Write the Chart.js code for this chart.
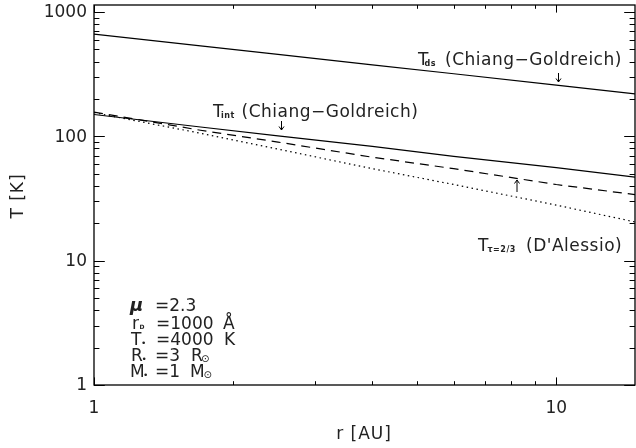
<!DOCTYPE html>
<html lang="en">
<head>
<meta charset="UTF-8">
<title>Disk temperature profiles</title>
<script src="https://cdn.jsdelivr.net/npm/chart.js"></script>
<style>
  body { margin: 0; background: #fff; }
  canvas { display: block; }
</style>
</head>
<body>
<canvas id="tempChart" width="636" height="448"></canvas>
<script>
// radius (AU) and temperature (K) of each curve
const radii = [1, 1.7, 2.5, 4, 6, 10, 14.8];
const tDs  = [664, 534, 456, 376, 319, 258, 220];
const tInt = [150, 119, 101, 83, 69, 56, 47];
const tMid = [157, 112, 90, 68, 55, 41, 34];
const tTau = [155, 106, 79, 55, 41, 28, 20.5];

const xTickLabels = [1, 10];
const yTickLabels = [1, 10, 100, 1000];
const xRange = [1, 14.8];
const yRange = [1, 1140];

const FONT = '"DejaVu Sans ExtraLight", "DejaVu Sans", sans-serif';
const INK = '#222';

function pts(vals) {
    return radii.map((r, i) => ({ x: r, y: vals[i] }));
}

// 1..9 x decade steps inside a range, flag for the decade values
function logTicks(range) {
    const out = [];
    for (let d = 1; d <= range[1]; d *= 10) {
        for (let k = 1; k < 10; k++) {
            const v = d * k;
            if (v >= range[0] && v <= range[1]) out.push([v, k === 1]);
        }
    }
    return out;
}

function txt(ctx, s, x, y, font, align) {
    ctx.font = font;
    ctx.textAlign = align || 'left';
    ctx.fillText(s, x, y);
}

function arrow(ctx, x, yTail, yHead) {
    const dir = yHead > yTail ? 1 : -1;
    ctx.beginPath();
    ctx.moveTo(x, yTail);
    ctx.lineTo(x, yHead);
    ctx.moveTo(x - 2.5, yHead - dir * 3.5);
    ctx.lineTo(x, yHead);
    ctx.lineTo(x + 2.5, yHead - dir * 3.5);
    ctx.stroke();
}

const frame = {
    id: 'frame',
    afterDraw(chart) {
        const { ctx, chartArea: a } = chart;
        const sx = chart.scales.x, sy = chart.scales.y;
        ctx.save();
        ctx.strokeStyle = '#000';
        ctx.fillStyle = INK;
        ctx.lineWidth = 1.3;
        ctx.strokeRect(a.left, a.top, a.right - a.left, a.bottom - a.top);

        // inward ticks on all four sides
        ctx.lineWidth = 1;
        ctx.beginPath();
        logTicks(xRange).forEach(([v, major]) => {
            const px = Math.round(sx.getPixelForValue(v)) + 0.5;
            const len = major ? 7.6 : 3.8;
            ctx.moveTo(px, a.bottom); ctx.lineTo(px, a.bottom - len);
            ctx.moveTo(px, a.top); ctx.lineTo(px, a.top + len);
        });
        logTicks(yRange).forEach(([v, major]) => {
            const py = Math.round(sy.getPixelForValue(v)) + 0.5;
            const len = major ? 10.8 : 5.4;
            ctx.moveTo(a.left, py); ctx.lineTo(a.left + len, py);
            ctx.moveTo(a.right, py); ctx.lineTo(a.right - len, py);
        });
        ctx.stroke();

        // tick labels
        const f17 = '17px ' + FONT;
        ctx.textBaseline = 'middle';
        xTickLabels.forEach(v => txt(ctx, String(v), sx.getPixelForValue(v), 409, f17, 'center'));
        yTickLabels.forEach(v => txt(ctx, String(v), a.left - 7, sy.getPixelForValue(v) + 1, f17, 'right'));

        // axis titles
        ctx.textBaseline = 'alphabetic';
        ctx.letterSpacing = '1px';
        txt(ctx, 'r [AU]', 364, 439, f17, 'center');
        ctx.save();
        ctx.translate(23, 196);
        ctx.rotate(-Math.PI / 2);
        txt(ctx, 'T [K]', 0, 0, f17, 'center');
        ctx.restore();
        ctx.letterSpacing = '0.5px';

        // curve labels
        const sub = 'bold 8px "DejaVu Sans", sans-serif';
        txt(ctx, 'T', 418, 65, f17);
        txt(ctx, 'ds', 424.5, 66, sub);
        txt(ctx, '(Chiang\u2212Goldreich)', 445, 65, f17);

        txt(ctx, 'T', 213, 117, f17);
        txt(ctx, 'int', 221, 118, sub);
        txt(ctx, '(Chiang\u2212Goldreich)', 241.5, 117, f17);

        txt(ctx, 'T', 478, 251, f17);
        txt(ctx, '\u03c4=2/3', 487.5, 252, sub);
        txt(ctx, "(D'Alessio)", 526, 251, f17);

        ctx.lineWidth = 1;
        arrow(ctx, 558.5, 73, 82);
        arrow(ctx, 281.5, 121, 130);
        arrow(ctx, 517, 192, 180);

        // model parameters
        ctx.letterSpacing = '0px';
        const dot = '9px "DejaVu Sans", sans-serif';
        const sun = '10px "DejaVu Sans", sans-serif';
        txt(ctx, '\u03bc', 130, 311, 'italic bold 18px "DejaVu Sans", sans-serif');
        txt(ctx, '=2.3', 155, 311, f17);

        txt(ctx, 'r', 132, 329, f17);
        txt(ctx, 'D', 139.5, 329, 'bold 6px "DejaVu Sans", sans-serif');
        txt(ctx, '=1000', 156, 329, f17);
        txt(ctx, '\u00c5', 223, 329, f17);

        txt(ctx, 'T', 131, 345, f17);
        txt(ctx, '\u2022', 141, 346, dot);
        txt(ctx, '=4000', 156, 345, f17);
        txt(ctx, 'K', 224, 345, f17);

        txt(ctx, 'R', 131, 361, f17);
        txt(ctx, '\u2022', 141.5, 362, dot);
        txt(ctx, '=3', 155, 361, f17);
        txt(ctx, 'R', 191, 361, f17);
        txt(ctx, '\u2299', 201, 362, sun);

        txt(ctx, 'M', 130, 377, f17);
        txt(ctx, '\u2022', 143, 378, dot);
        txt(ctx, '=1', 155, 377, f17);
        txt(ctx, 'M', 190, 377, f17);
        txt(ctx, '\u2299', 203.5, 378, sun);
        ctx.restore();
    }
};

const line = (data, dash) => ({
    data: pts(data),
    showLine: true,
    borderColor: '#000',
    borderWidth: 1.2,
    borderDash: dash,
    pointRadius: 0,
    fill: false
});

new Chart(document.getElementById('tempChart'), {
    type: 'scatter',
    data: {
        datasets: [
            line(tDs, []),
            line(tInt, []),
            line(tMid, [9, 6]),
            line(tTau, [1.5, 3.5])
        ]
    },
    options: {
        responsive: false,
        animation: false,
        layout: { padding: { left: 94, right: 1, top: 5, bottom: 63 } },
        plugins: { legend: { display: false }, tooltip: { enabled: false } },
        scales: {
            x: { type: 'logarithmic', min: xRange[0], max: xRange[1], display: false },
            y: { type: 'logarithmic', min: yRange[0], max: yRange[1], display: false }
        }
    },
    plugins: [frame]
});
</script>
</body>
</html>
